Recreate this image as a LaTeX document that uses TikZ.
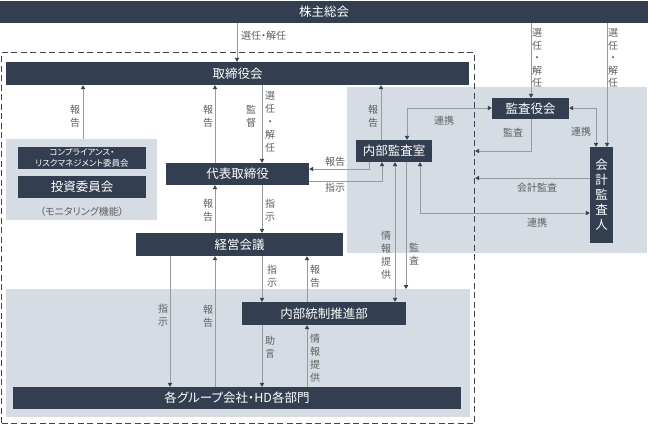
\documentclass[tikz,border=0pt]{standalone}
\usepackage{fontspec}
\setmainfont{Noto Sans CJK JP}[RawFeature=+palt]
\usetikzlibrary{arrows.meta,calc}
\definecolor{boxc}{HTML}{333F50}
\definecolor{regc}{HTML}{D6DCE4}
\definecolor{linec}{HTML}{959BA3}
\definecolor{tipc}{HTML}{3C4450}
\definecolor{lblc}{HTML}{5F5F5F}
\definecolor{dashc}{HTML}{3F444C}
\tikzset{
  box/.style={fill=boxc, text=white, inner sep=0pt, font=\fontsize{12.5}{14}\selectfont},
  region/.style={fill=regc, inner sep=0pt, anchor=north west},
  conn/.style={draw=linec, line width=0.8pt},
  arr/.style={conn, -{Triangle[width=4.5pt,length=4pt,color=tipc]}},
  darr/.style={conn, {Triangle[width=4.5pt,length=4pt,color=tipc]}-{Triangle[width=4.5pt,length=4pt,color=tipc]}},
  lbl/.style={text=lblc, inner sep=0pt, font=\fontsize{10}{13}\selectfont, align=center},
}
\begin{document}
\begin{tikzpicture}[x=1pt,y=-1pt]
\useasboundingbox (0,0) rectangle (648,424);
% background regions
\node[region, minimum width=300pt, minimum height=166pt] (regR) at (347,87) {};
\node[region, minimum width=151pt, minimum height=81pt] (regL) at (6,139) {};
\node[region, minimum width=464pt, minimum height=128pt] (regB) at (6,289) {};
% dashed frame
\node[draw=dashc, line width=1.2pt, dash pattern=on 6pt off 3.5pt, inner sep=0pt, anchor=north west, minimum width=473pt, minimum height=371pt] (frame) at (1,52) {};
% boxes
\node[box, minimum width=648pt, minimum height=22pt] (kabu) at (324,12) {株主総会};
\node[box, minimum width=463pt, minimum height=23pt] (tori) at (237.5,73.5) {取締役会};
\node[box, minimum width=143pt, minimum height=22pt] (daihyo) at (237.5,174) {代表取締役};
\node[box, minimum width=207pt, minimum height=23pt] (keiei) at (239.5,244.5) {経営会議};
\node[box, minimum width=164pt, minimum height=23pt] (naibu) at (324,313.5) {内部統制推進部};
\node[box, minimum width=448pt, minimum height=22pt] (group) at (237,398) {各グループ会社・HD各部門};
\node[box, minimum width=76pt, minimum height=22pt] (kansa) at (394,151) {内部監査室};
\node[box, minimum width=77pt, minimum height=21pt] (kanyaku) at (530.5,108.5) {監査役会};
\node[box, minimum width=23pt, minimum height=96pt, align=center, font=\fontsize{12.5}{15}\selectfont] (kaikei) at (601.5,195) {会\\計\\監\\査\\人};
\node[box, minimum width=128pt, minimum height=22pt, align=center, font=\fontsize{8.5}{11}\selectfont] (comp) at (82,158) {コンプライアンス・\\リスクマネジメント委員会};
\node[box, minimum width=128pt, minimum height=22pt] (toushi) at (82,187) {投資委員会};
\node[text=lblc, inner sep=0pt, font=\fontsize{10}{12}\selectfont] (monitor) at (82,212) {（モニタリング機能）};
% columns
\coordinate (x83) at (83,0);
\coordinate (x170) at (170,0);
\coordinate (x215) at (215,0);
\coordinate (x237) at (237,0);
\coordinate (x262) at (262,0);
\coordinate (x307) at (307,0);
\coordinate (x369) at (369,0);
\coordinate (x381) at (381,0);
\coordinate (x382) at (382,0);
\coordinate (x395) at (395,0);
\coordinate (x406) at (406,0);
\coordinate (x407) at (407,0);
\coordinate (x420) at (420,0);
\coordinate (x531) at (531,0);
\coordinate (x596) at (596,0);
\coordinate (x607) at (607,0);
\coordinate (y108) at (0,108);
\coordinate (y151) at (0,151);
\coordinate (y169) at (0,169);
\coordinate (y178) at (0,178);
\coordinate (y181) at (0,181);
\coordinate (y213) at (0,213);
% connectors
\draw[arr] (kabu.south -| x237) -- (tori.north -| x237);
\draw[arr] (kabu.south -| x531) -- (kanyaku.north -| x531);
\draw[arr] (kabu.south -| x607) -- (kaikei.north -| x607);
\draw[arr] (regL.north -| x83) -- (tori.south -| x83);
\draw[arr] (daihyo.north -| x215) -- (tori.south -| x215);
\draw[arr] (tori.south -| x262) -- (daihyo.north -| x262);
\draw[arr] (kansa.north -| x381) -- (tori.south -| x381);
\draw[darr] (kansa.north -| x407) |- (kanyaku.west |- y108);
\draw[arr] (kanyaku.south -| x531) |- (frame.east |- y151);
\draw[darr] (kanyaku.east |- y108) -| (kaikei.north -| x596);
\draw[arr] (kaikei.west |- y178) -- (frame.east |- y178);
\draw[darr] (kansa.south -| x420) |- (kaikei.west |- y213);
\draw[arr] (kansa.south -| x369) |- (daihyo.east |- y169);
\draw[arr] (daihyo.east |- y181) -| (kansa.south -| x382);
\draw[darr] (kansa.south -| x395) -- (naibu.north -| x395);
\draw[arr] (kansa.south -| x406) -- (regB.north -| x406);
\draw[arr] (daihyo.south -| x262) -- (keiei.north -| x262);
\draw[arr] (keiei.north -| x215) -- (daihyo.south -| x215);
\draw[arr] (keiei.south -| x170) -- (group.north -| x170);
\draw[arr] (group.north -| x215) -- (keiei.south -| x215);
\draw[arr] (keiei.south -| x262) -- (naibu.north -| x262);
\draw[arr] (naibu.north -| x307) -- (keiei.south -| x307);
\draw[arr] (naibu.south -| x262) -- (group.north -| x262);
\draw[arr] (group.north -| x307) -- (naibu.south -| x307);
% labels
\node[lbl, anchor=west] (t1) at (241,36) {選任・解任};
\node[lbl, font=\fontsize{10}{12.5}\selectfont] (t2) at (537,58) {選\\任\\・\\解\\任};
\node[lbl, font=\fontsize{10}{12.5}\selectfont] (t3) at (613,58) {選\\任\\・\\解\\任};
\node[lbl] (t4) at (75,116) {報\\告};
\node[lbl] (t5) at (208,116) {報\\告};
\node[lbl] (t6) at (251,116) {監\\督};
\node[lbl] (t7) at (270,122) {選\\任\\・\\解\\任};
\node[lbl] (t8) at (373,116) {報\\告};
\node[lbl] (t9) at (444,121) {連携};
\node[lbl] (t10) at (513,133) {監査};
\node[lbl] (t11) at (581,132) {連携};
\node[lbl] (t12) at (537,188) {会計監査};
\node[lbl] (t13) at (537,223) {連携};
\node[lbl] (t14) at (335,162) {報告};
\node[lbl] (t15) at (335,188) {指示};
\node[lbl] (t16) at (386,255) {情\\報\\提\\供};
\node[lbl] (t17) at (414,254) {監\\査};
\node[lbl] (t18) at (208,210) {報\\告};
\node[lbl] (t19) at (270,210) {指\\示};
\node[lbl] (t20) at (163,315) {指\\示};
\node[lbl] (t21) at (208,316) {報\\告};
\node[lbl] (t22) at (272,276) {指\\示};
\node[lbl] (t23) at (315,276) {報\\告};
\node[lbl] (t24) at (270,347) {助\\言};
\node[lbl] (t25) at (315,358) {情\\報\\提\\供};
\end{tikzpicture}
\end{document}
